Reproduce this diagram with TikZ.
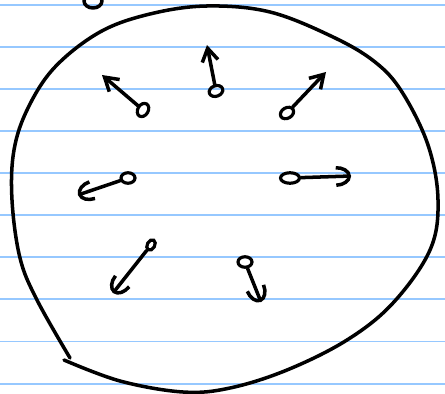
\documentclass[tikz,border=0pt]{standalone}
\usepackage{xcolor}
\usetikzlibrary{arrows.meta, shapes.geometric}
\definecolor{ruleBlue}{RGB}{150,200,255}

\begin{document}
\begin{tikzpicture}[
  x=0.02cm, y=-0.02cm,
  pen/.style={line width=2pt, line cap=round, line join=round},
  ruling/.style={ruleBlue, line width=1.1pt},
  blob/.style={draw, ellipse, line width=1.8pt, inner sep=0pt, minimum width=0.28cm, minimum height=0.21cm},
  vec/.style={pen, -{Straight Barb[length=0.26cm, width=0.32cm, line width=2pt]}},
  cvec/.style={pen, -{Arc Barb[length=0.3cm, width=0.42cm, line width=2pt]}}
]
\useasboundingbox (0,0) rectangle (445,394);
\fill[white] (0,0) rectangle (445,394);
% ruled paper
\foreach \y in {4.7,46.8,88.9,131,173.1,215.2,257.3,299.4,341.5,383.6}
  \draw[ruling] (0,\y) -- (445,\y);
% outline
\draw[pen] plot[smooth, tension=0.6] coordinates {(70,358) (37,300) (20,258) (12,200) (14,150) (28,108) (55,67) (100,32) (150,14) (207,6) (270,12) (333,37) (375,62) (402,92) (428,145) (438,200) (430,250) (393,303) (347,340) (287,370) (230,388) (183,392) (120,381) (64,360)};
% stray loop at the top
\draw[pen] (93,1) ellipse [x radius=9, y radius=7];
% particles
\node[blob, rotate=20] (pTop) at (216,91) {};
\node[blob, rotate=60] (pNW) at (143,110) {};
\node[blob, rotate=30] (pNE) at (287,113) {};
\node[blob] (pW) at (128,178) {};
\node[blob, minimum width=0.38cm] (pE) at (290,178) {};
\node[blob, rotate=60, minimum width=0.22cm, minimum height=0.15cm] (pSW) at (151,245) {};
\node[blob] (pSE) at (245,262) {};
% arrow tips
\coordinate (tTop) at (207,45);
\coordinate (tNW) at (102,75);
\coordinate (tNE) at (326,72);
\coordinate (tW) at (78,195);
\coordinate (tE) at (351,176);
\coordinate (tSW) at (113,293);
\coordinate (tSE) at (261,302);
\draw[vec] (pTop) -- (tTop);
\draw[vec] (pNW) -- (tNW);
\draw[vec] (pNE) -- (tNE);
\draw[cvec] (pW) -- (tW);
\draw[cvec] (pE) -- (tE);
\draw[cvec] (pSW) -- (tSW);
\draw[cvec] (pSE) -- (tSE);
\end{tikzpicture}
\end{document}
